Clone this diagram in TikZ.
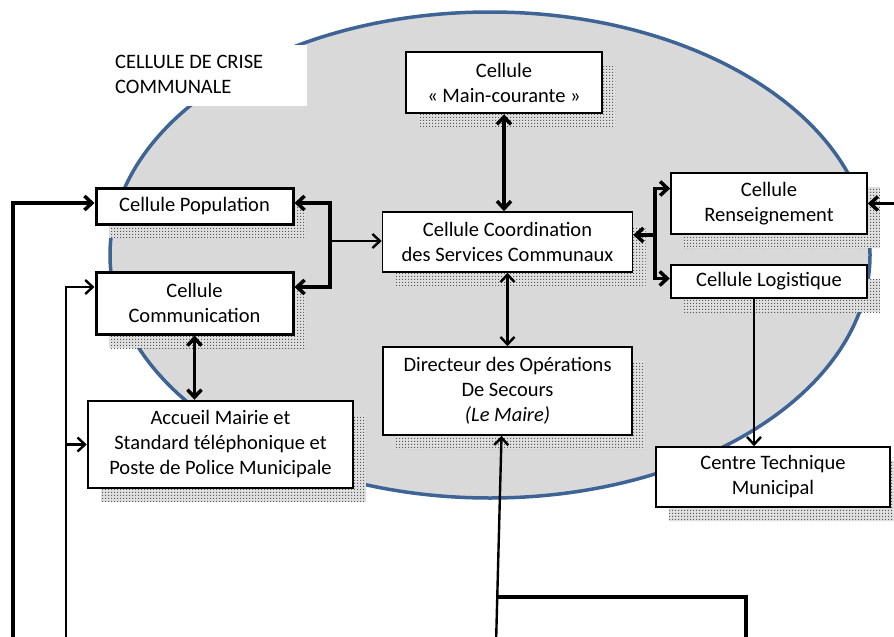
\documentclass[tikz,border=0pt]{standalone}
\usepackage{fontspec}
\setmainfont{Carlito}
\usetikzlibrary{arrows.meta,shadows,patterns.meta}
\definecolor{ellfill}{RGB}{217,217,217}
\definecolor{ellline}{RGB}{62,100,150}
\tikzdeclarepattern{name=sdots, type=uncolored,
  bounding box={(0pt,0pt) and (3pt,3pt)}, tile size={(3pt,3pt)},
  code={\pgfpathrectangle{\pgfpointorigin}{\pgfpoint{1.4pt}{1.4pt}}\pgfusepath{fill}}}
\begin{document}
\begin{tikzpicture}[x=1pt,y=-1pt,
  >={Straight Barb[length=7.5pt,width=14pt]},
  box/.style={draw=black, fill=white, align=center, inner sep=0pt, line width=1.6pt,
    font=\fontsize{20.5}{25}\selectfont,
    general shadow={shadow xshift=13pt, shadow yshift=-14pt, fill=black!12},
    general shadow={shadow xshift=13pt, shadow yshift=-14pt, pattern=sdots, pattern color=black!65}},
  heavy/.style={line width=3pt},
  mid/.style={line width=2.5pt},
  conn/.style={line width=3.5pt},
  conntwo/.style={line width=2.4pt}
]
\useasboundingbox (0,0) rectangle (894,637);
% crisis cell ellipse
\draw[draw=ellline, fill=ellfill, line width=3.5pt] (490,255) ellipse [x radius=380pt, y radius=243pt];
% label area
\fill[white] (100,45) rectangle (307,106);
\node[anchor=north west, align=left, inner sep=0pt, font=\fontsize{20.5}{25}\selectfont] (lbl) at (115,55) {CELLULE DE CRISE\\COMMUNALE};
% boxes
\node[box, mid, minimum width=196pt, minimum height=61pt] (main) at (504,82.5) {Cellule\\« Main-courante »};
\node[box, minimum width=250pt, minimum height=60pt] (coord) at (507.5,242) {Cellule Coordination\\des Services Communaux};
\node[box, minimum width=249pt, minimum height=88pt] (dir) at (507.5,391) {Directeur des Opérations\\De Secours\\\textit{(Le Maire)}};
\node[box, heavy, minimum width=197pt, minimum height=36pt] (pop) at (194.5,206) {Cellule Population};
\node[box, heavy, minimum width=197pt, minimum height=62pt] (comm) at (194.5,303) {Cellule\\Communication};
\node[box, mid, minimum width=265pt, minimum height=87pt] (acc) at (220.5,444.5) {Accueil Mairie et\\Standard téléphonique et\\Poste de Police Municipale};
\node[box, minimum width=196pt, minimum height=61pt] (rens) at (769,203.5) {Cellule\\Renseignement};
\node[box, mid, minimum width=196pt, minimum height=33pt] (log) at (769,281.5) {Cellule Logistique};
\node[box, minimum width=234pt, minimum height=60pt] (ctm) at (773,477) {Centre Technique\\Municipal};
% connectors
\draw[conn,<->] (main.south) -- (main.south |- coord.north);
\draw[conntwo,<->] (coord.south) -- (coord.south |- dir.north);
\coordinate (jl) at (330,241);
\draw[conn,<->] ([yshift=3pt]pop.east) -| (jl) |- ([yshift=16pt]comm.east);
\draw[conntwo,->] (jl) -- (jl -| coord.west);
\coordinate (jr) at (655,235);
\draw[conn,<->] ([yshift=15pt]rens.west) -| (jr) |- ([yshift=3pt]log.west);
\draw[conn,->] (jr) -- (jr -| coord.east);
\draw[conn,<->] (comm.south) -- (comm.south |- acc.north);
\draw[conntwo,->] ([xshift=-15pt]log.south) -- ([xshift=-15pt]log.south |- ctm.north);
\coordinate (o1) at (13,645);
\draw[conn,->] (o1) |- ([yshift=3pt]pop.west);
\coordinate (o2) at (66,645);
\draw[conntwo,->] (o2) |- ([yshift=16pt]comm.west);
\draw[conntwo,->] (o2 |- acc.west) -- (acc.west);
\coordinate (ri) at (900,203.5);
\draw[conn,->] (ri) -- (rens.east);
\coordinate (d0) at (496,645);
\draw[conntwo,->] (d0) -- ([xshift=-6pt]dir.south);
\coordinate (h1) at (497,597);
\coordinate (h2) at (746,597);
\coordinate (h3) at (746,645);
\draw[line width=4pt] (h1) -- (h2) -- (h3);
\end{tikzpicture}
\end{document}
